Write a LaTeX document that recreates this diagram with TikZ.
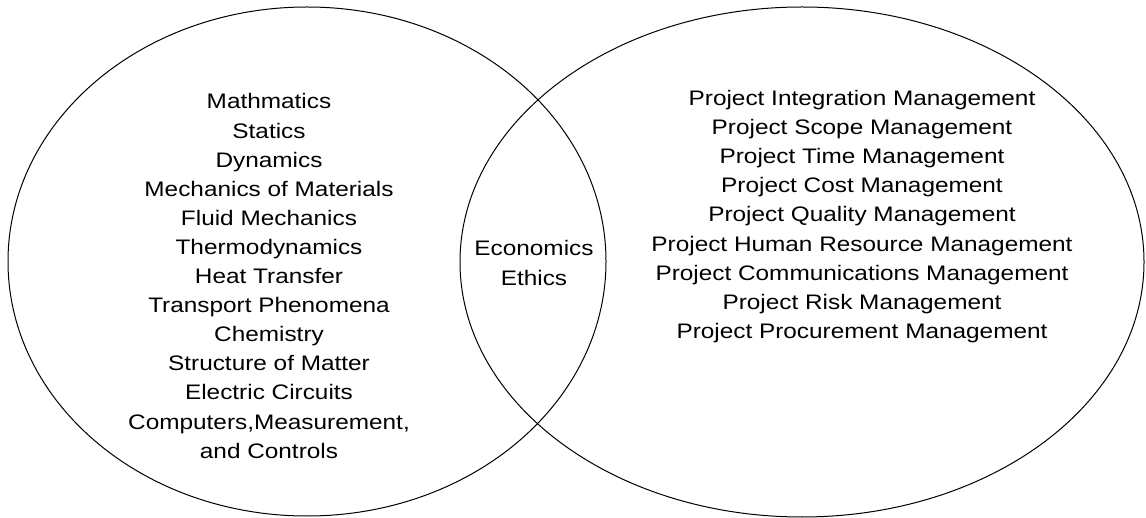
\documentclass[tikz,border=0pt]{standalone}
\usepackage{fontspec}
\newfontfamily\widesans[FakeStretch=1.16]{Liberation Sans}
\usetikzlibrary{shapes.geometric}
\tikzset{
  circ/.style={draw=black, line width=1pt, ellipse, inner sep=0pt},
  txt/.style={align=center, inner sep=0pt, text=black, font=\widesans\fontsize{21}{29.1}\selectfont}
}
\begin{document}
\begin{tikzpicture}[x=1pt, y=-1pt]
\useasboundingbox (0,0) rectangle (1146,518);
\node[circ, minimum width=598pt, minimum height=509pt] (lefte) at (307,261.5) {};
\node[circ, minimum width=684pt, minimum height=510pt] (righte) at (802,262) {};
\node[txt] (lt) at (269,276) {Mathmatics\\Statics\\Dynamics\\Mechanics of Materials\\Fluid Mechanics\\Thermodynamics\\Heat Transfer\\Transport Phenomena\\Chemistry\\Structure of Matter\\Electric Circuits\\Computers,Measurement,\\and Controls};
\node[txt] (mt) at (534,263) {Economics\\Ethics};
\node[txt] (rt) at (862,216.5) {Project Integration Management\\Project Scope Management\\Project Time Management\\Project Cost Management\\Project Quality Management\\Project Human Resource Management\\Project Communications Management\\Project Risk Management\\Project Procurement Management};
\end{tikzpicture}
\end{document}
